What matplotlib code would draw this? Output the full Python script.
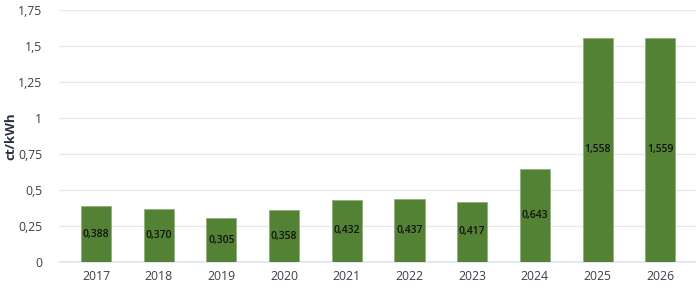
import matplotlib
matplotlib.use("Agg")
import matplotlib.pyplot as plt

years = ["2017", "2018", "2019", "2020", "2021", "2022", "2023", "2024", "2025", "2026"]
values = [0.388, 0.370, 0.305, 0.358, 0.432, 0.437, 0.417, 0.643, 1.558, 1.559]
labels = ["0,388", "0,370", "0,305", "0,358", "0,432", "0,437", "0,417", "0,643", "1,558", "1,559"]
yticks = [0, 0.25, 0.5, 0.75, 1, 1.25, 1.5, 1.75]
yticklabels = ["0", "0,25", "0,5", "0,75", "1", "1,25", "1,5", "1,75"]

plt.rcParams['font.family'] = ['Open Sans', 'DejaVu Sans']

fig = plt.figure(figsize=(6.96, 2.94), dpi=100)
ax = fig.add_axes([59/696, 32/294, 637/696, 252/294])

x = list(range(len(years)))
bars = ax.bar(x, values, width=0.48, color="#548235", edgecolor="#8fb07a", linewidth=0.6, zorder=3)
for xi, v, lab in zip(x, values, labels):
    ax.text(xi, v / 2, lab, ha="center", va="center", fontsize=7.5, fontweight="semibold",
            color="#111111", zorder=4)

ax.set_xlim(-0.59, 9.57)
ax.set_ylim(0, 1.75)
ax.set_yticks(yticks)
ax.set_yticklabels(yticklabels)
ax.set_xticks(x)
ax.set_xticklabels(years)
ax.grid(axis="y", color="#e8e8ec", linewidth=1, zorder=0)
for s in ["top", "right", "left"]:
    ax.spines[s].set_visible(False)
ax.spines["bottom"].set_color("#dfe4f0")
ax.spines["bottom"].set_linewidth(1.2)
ax.tick_params(axis="both", length=0, labelsize=8.8, colors="#3a3f4a")
ax.tick_params(axis="y", pad=12)
ax.tick_params(axis="x", pad=6)
fig.text(11/696, 1 - 136/294, "ct/kWh", rotation=90, ha="center", va="center",
         fontsize=9.5, fontweight="bold", color="#2a3040")

fig.savefig("out.png", dpi=100)
